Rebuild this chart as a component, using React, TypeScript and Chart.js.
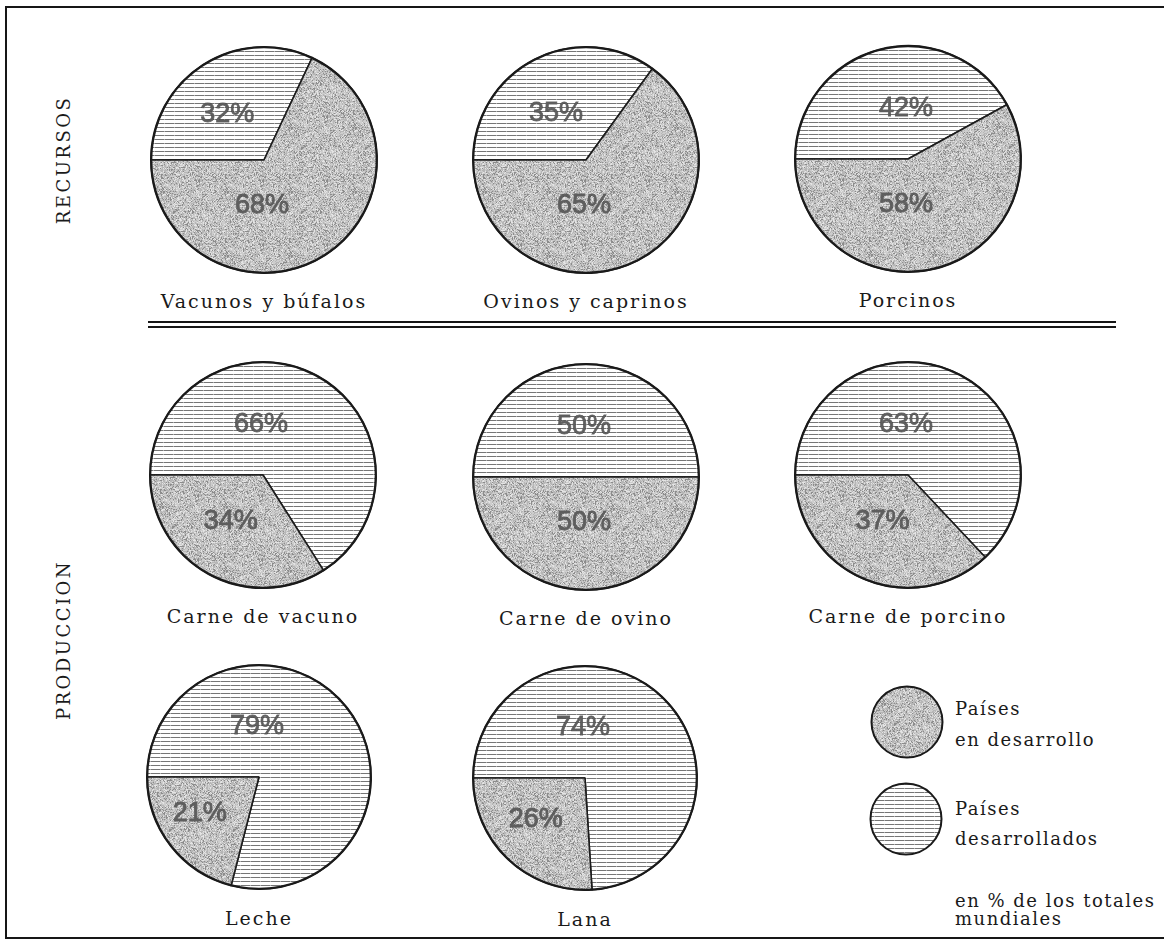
import React, { useEffect, useRef } from "react";
import { Chart, registerables } from "chart.js";

Chart.register(...registerables);

// ---------------- data ----------------
const categories = [
  "Vacunos y búfalos",
  "Ovinos y caprinos",
  "Porcinos",
  "Carne de vacuno",
  "Carne de ovino",
  "Carne de porcino",
  "Leche",
  "Lana",
];
const developedShare = [32, 35, 42, 66, 50, 63, 79, 74];
const developingShare = [68, 65, 58, 34, 50, 37, 21, 26];
const seriesLabels = ["Países desarrollados", "Países en desarrollo"];
const sectionLabels = ["RECURSOS", "PRODUCCION"];
const legendDeveloping = ["Países", "en desarrollo"];
const legendDeveloped = ["Países", "desarrollados"];
const noteLines = ["en % de los totales", "mundiales"];

// ---------------- layout ----------------
const PIE_POS = [
  { cx: 264, cy: 160, r: 114 },
  { cx: 586, cy: 160, r: 114 },
  { cx: 908, cy: 159, r: 114 },
  { cx: 263, cy: 475, r: 114 },
  { cx: 586, cy: 477, r: 114 },
  { cx: 908, cy: 475, r: 114 },
  { cx: 259, cy: 777, r: 113 },
  { cx: 585, cy: 778, r: 113 },
];
const LABEL_GAP = 141;
const SERIF = '"DejaVu Serif", serif';
const SANS = '"Liberation Sans", Arial, sans-serif';

function makeGreyPattern(ctx: CanvasRenderingContext2D) {
  const N = 64;
  const c = document.createElement("canvas");
  c.width = N;
  c.height = N;
  const g = c.getContext("2d")!;
  const img = g.createImageData(N, N);
  let s = 12345;
  for (let y = 0; y < N; y++) {
    for (let x = 0; x < N; x++) {
      s = (s * 1103515245 + 12345) & 0x7fffffff;
      const h = (s >> 8) % 100;
      const v = h < 15 ? 140 : h < 50 ? 182 : h < 85 ? 205 : 228;
      const i = (y * N + x) * 4;
      img.data[i] = v;
      img.data[i + 1] = v;
      img.data[i + 2] = v;
      img.data[i + 3] = 255;
    }
  }
  g.putImageData(img, 0, 0);
  return ctx.createPattern(c, "repeat")!;
}

function makeHatchPattern(ctx: CanvasRenderingContext2D) {
  const c = document.createElement("canvas");
  c.width = 10;
  c.height = 4;
  const g = c.getContext("2d")!;
  g.fillStyle = "#ffffff";
  g.fillRect(0, 0, 10, 4);
  g.fillStyle = "#767676";
  g.fillRect(0, 0, 10, 1);
  g.fillStyle = "#b0b0b0";
  g.fillRect(7, 0, 1, 1);
  return ctx.createPattern(c, "repeat")!;
}

const outlinePlugin = {
  id: "pieOutline",
  afterDatasetsDraw(chart: any) {
    const meta = chart.getDatasetMeta(0);
    const a = meta.data[0];
    if (!a) return;
    const p = a.getProps(["x", "y", "outerRadius"], true);
    const ctx: CanvasRenderingContext2D = chart.ctx;
    ctx.save();
    ctx.beginPath();
    ctx.arc(p.x, p.y, p.outerRadius - 0.5, 0, Math.PI * 2);
    ctx.lineWidth = 2;
    ctx.strokeStyle = "#1a1a1a";
    ctx.stroke();
    ctx.restore();
  },
};

const pctLabelPlugin = {
  id: "pctLabels",
  afterDatasetsDraw(chart: any, _args: any, opts: any) {
    if (!opts || !opts.show) return;
    const ctx: CanvasRenderingContext2D = chart.ctx;
    const meta = chart.getDatasetMeta(0);
    const values: number[] = chart.data.datasets[0].data;
    const total = values.reduce((a, b) => a + b, 0);
    ctx.save();
    ctx.font = `27px ${SANS}`;
    ctx.textAlign = "center";
    ctx.textBaseline = "middle";
    meta.data.forEach((arc: any, i: number) => {
      const p = arc.getProps(["x", "y", "startAngle", "endAngle", "outerRadius"], true);
      const share = values[i] / total;
      let lx: number, ly: number;
      if (share < 0.4) {
        const half = (p.endAngle - p.startAngle) / 2;
        const mid = p.startAngle + half;
        const d = (2 * p.outerRadius * Math.sin(half)) / (3 * half);
        lx = p.x + Math.cos(mid) * d * 1.08;
        ly = p.y + Math.sin(mid) * d * 0.85;
      } else if (i === 0) {
        lx = p.x - 2;
        ly = p.y - p.outerRadius * 0.45;
      } else {
        lx = p.x - 2;
        ly = p.y + p.outerRadius * 0.4;
      }
      const t = `${values[i]}%`;
      ctx.lineWidth = 0.8;
      ctx.strokeStyle = "rgba(40,40,40,0.7)";
      ctx.strokeText(t, lx, ly);
      ctx.fillStyle = "#5e5e5e";
      ctx.fillText(t, lx, ly);
    });
    ctx.restore();
  },
};

type PieProps = {
  cx: number;
  cy: number;
  r: number;
  values: number[];
  kinds: ("hatch" | "grey")[];
  showLabels: boolean;
};

function Pie({ cx, cy, r, values, kinds, showLabels }: PieProps) {
  const ref = useRef<HTMLCanvasElement | null>(null);
  const pad = 3;
  const size = 2 * r + 2 * pad;
  useEffect(() => {
    const canvas = ref.current!;
    const ctx = canvas.getContext("2d")!;
    const grey = makeGreyPattern(ctx);
    const hatch = makeHatchPattern(ctx);
    const single = values.length === 1;
    const chart = new Chart(canvas, {
      type: "pie",
      data: {
        labels: single ? [kinds[0] === "grey" ? seriesLabels[1] : seriesLabels[0]] : seriesLabels,
        datasets: [
          {
            data: values,
            backgroundColor: kinds.map((k) => (k === "grey" ? grey : hatch)) as any,
            borderColor: "#1c1c1c",
            borderWidth: single ? 0 : 1.6,
          },
        ],
      },
      options: {
        responsive: false,
        animation: false,
        rotation: -90,
        events: [],
        layout: { padding: pad },
        plugins: {
          legend: { display: false },
          tooltip: { enabled: false },
          pctLabels: { show: showLabels },
        } as any,
      },
      plugins: [outlinePlugin as any, pctLabelPlugin as any],
    });
    return () => chart.destroy();
  }, []);
  return (
    <canvas
      ref={ref}
      width={size}
      height={size}
      style={{ position: "absolute", left: cx - r - pad, top: cy - r - pad, width: size, height: size }}
    />
  );
}

function Text({
  x,
  y,
  children,
  align = "center",
  size = 19,
  spacing = 2,
}: {
  x: number;
  y: number;
  children: React.ReactNode;
  align?: "center" | "left";
  size?: number;
  spacing?: number;
}) {
  const style: React.CSSProperties = {
    position: "absolute",
    top: y - 12,
    height: 24,
    lineHeight: "24px",
    fontFamily: SERIF,
    fontSize: size,
    letterSpacing: spacing,
    color: "#1a1a1a",
    whiteSpace: "nowrap",
  };
  if (align === "center") {
    style.left = x - 200;
    style.width = 400;
    style.textAlign = "center";
  } else {
    style.left = x;
  }
  return <div style={style}>{children}</div>;
}

function Vertical({ x, y, children }: { x: number; y: number; children: React.ReactNode }) {
  return (
    <div
      style={{
        position: "absolute",
        left: x,
        top: y,
        transform: "translate(-50%, -50%) rotate(-90deg)",
        fontFamily: SERIF,
        fontSize: 18,
        letterSpacing: 2.5,
        color: "#1a1a1a",
        whiteSpace: "nowrap",
        lineHeight: "20px",
      }}
    >
      {children}
    </div>
  );
}

function Line({ x, y, w, h }: { x: number; y: number; w: number; h: number }) {
  return <div style={{ position: "absolute", left: x, top: y, width: w, height: h, background: "#161616" }} />;
}

export default function App() {
  return (
    <div
      style={{
        position: "absolute",
        left: 0,
        top: 0,
        width: 1164,
        height: 940,
        background: "#ffffff",
        overflow: "hidden",
      }}
    >
      {/* frame */}
      <Line x={6} y={6} w={1158} h={2} />
      <Line x={5} y={6} w={2} h={933} />
      <Line x={5} y={937} w={1159} h={2} />
      {/* double separator */}
      <Line x={148} y={321} w={968} h={1.5} />
      <Line x={148} y={326} w={968} h={1.5} />

      <Vertical x={64} y={160}>{sectionLabels[0]}</Vertical>
      <Vertical x={64} y={640}>{sectionLabels[1]}</Vertical>

      {categories.map((c, i) => (
        <React.Fragment key={c}>
          <Pie
            cx={PIE_POS[i].cx}
            cy={PIE_POS[i].cy}
            r={PIE_POS[i].r}
            values={[developedShare[i], developingShare[i]]}
            kinds={["hatch", "grey"]}
            showLabels={true}
          />
          <Text x={PIE_POS[i].cx} y={PIE_POS[i].cy + LABEL_GAP}>
            {c}
          </Text>
        </React.Fragment>
      ))}

      {/* legend */}
      <Pie cx={907} cy={722} r={36} values={[100]} kinds={["grey"]} showLabels={false} />
      <Pie cx={906} cy={819} r={36} values={[100]} kinds={["hatch"]} showLabels={false} />
      <Text x={955} y={709} align="left" size={18} spacing={1.5}>{legendDeveloping[0]}</Text>
      <Text x={955} y={740} align="left" size={18} spacing={1.5}>{legendDeveloping[1]}</Text>
      <Text x={955} y={809} align="left" size={18} spacing={1.5}>{legendDeveloped[0]}</Text>
      <Text x={955} y={839} align="left" size={18} spacing={1.5}>{legendDeveloped[1]}</Text>
      <Text x={955} y={901} align="left" size={18} spacing={1.5}>{noteLines[0]}</Text>
      <Text x={955} y={919} align="left" size={18} spacing={1.5}>{noteLines[1]}</Text>
    </div>
  );
}
